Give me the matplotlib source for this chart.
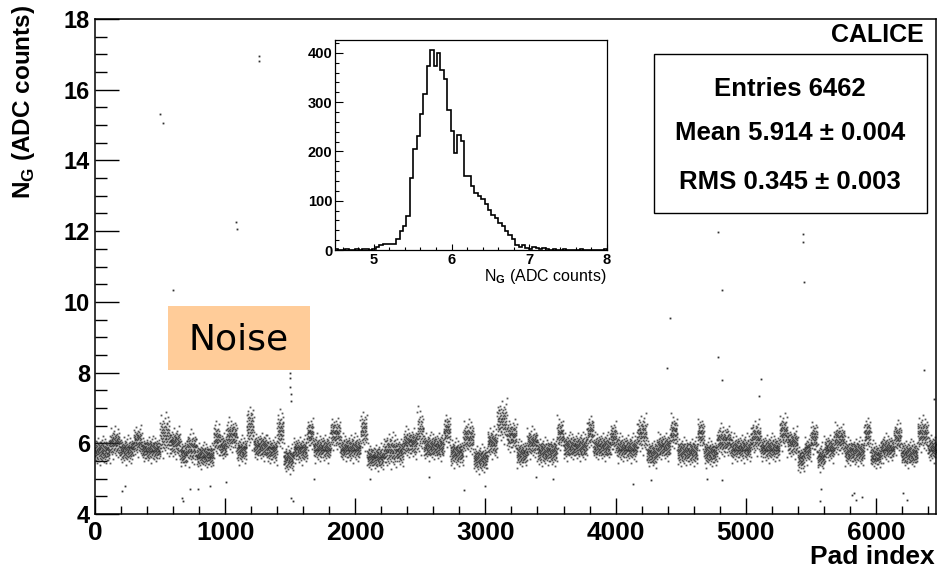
# pad noise map with inset histogram (CALICE style)

import numpy as np
import matplotlib
matplotlib.use('Agg')
import matplotlib.pyplot as plt
from matplotlib.ticker import MultipleLocator
from matplotlib.patches import Rectangle

plt.rcParams['font.family'] = ['Liberation Sans', 'DejaVu Sans']
plt.rcParams['font.weight'] = 'bold'
plt.rcParams['mathtext.fontset'] = 'custom'
plt.rcParams['mathtext.rm'] = 'Liberation Sans'
plt.rcParams['mathtext.bf'] = 'Liberation Sans:bold'

n_pads = 6462

# band level read along the pad axis (start pad of each stretch, level, spread)
seg_start = [0, 115, 190, 295, 360, 500, 575, 655, 705, 780,
             910, 960, 1010, 1090, 1165, 1220, 1320, 1400, 1450, 1525,
             1630, 1680, 1810, 1885, 2040, 2090, 2220, 2320, 2370, 2475,
             2525, 2680, 2730, 2830, 2910, 3015, 3090, 3165, 3240, 3320,
             3400, 3550, 3600, 3780, 3830, 3960, 4010, 4165, 4240, 4320,
             4420, 4475, 4630, 4680, 4780, 4885, 5040, 5115, 5260, 5320,
             5400, 5450, 5500, 5550, 5605, 5680, 5760, 5910, 5960, 6040,
             6140, 6195, 6320, 6400]
seg_level = [5.78, 6.0, 5.8, 6.05, 5.82, 6.2, 6.0, 5.7, 5.85, 5.65,
             6.1, 5.9, 6.2, 5.8, 6.45, 5.9, 5.8, 6.35, 5.55, 5.8,
             6.25, 5.85, 6.25, 5.85, 6.35, 5.6, 5.78, 5.75, 6.0, 6.3,
             5.9, 6.35, 5.72, 6.15, 5.55, 6.0, 6.6, 6.2, 5.7, 6.0,
             5.75, 6.25, 5.9, 6.3, 5.9, 6.15, 5.85, 6.25, 5.7, 5.9,
             6.3, 5.75, 6.25, 5.72, 6.05, 5.85, 6.15, 5.85, 6.3, 6.0,
             5.55, 5.8, 6.15, 5.6, 5.85, 6.1, 5.75, 6.25, 5.65, 5.85,
             6.15, 5.7, 6.25, 5.85]
seg_spread = [0.27, 0.3, 0.27, 0.3, 0.25, 0.42, 0.3, 0.27, 0.34, 0.25,
              0.34, 0.27, 0.34, 0.27, 0.42, 0.27, 0.27, 0.38, 0.27, 0.27,
              0.34, 0.27, 0.34, 0.27, 0.38, 0.25, 0.34, 0.27, 0.3, 0.48,
              0.27, 0.34, 0.27, 0.34, 0.27, 0.3, 0.42, 0.34, 0.27, 0.3,
              0.27, 0.34, 0.27, 0.34, 0.27, 0.34, 0.27, 0.38, 0.27, 0.27,
              0.34, 0.27, 0.34, 0.27, 0.32, 0.27, 0.34, 0.27, 0.34, 0.3,
              0.27, 0.27, 0.34, 0.27, 0.27, 0.32, 0.27, 0.34, 0.27, 0.27,
              0.32, 0.27, 0.34, 0.27]
# pad-to-pad scatter inside a stretch (in units of the spread)
offs = [0.3, -0.5, 0.1, 0.8, -0.2, -0.9, 0.4, 0.0, -0.4, 1.1,
        -0.1, 0.6, -0.7, 0.2, -0.3, 0.9, -1.2, 0.5, 0.1, -0.6,
        0.3, -0.1, 0.7, -0.8, 0.0, 1.4, -0.3, 0.2, -0.5, 0.6,
        -1.0, 0.4, -0.2, 0.8, 0.1, -0.7, 0.3, -0.4, 1.0, -0.1,
        0.5, -1.5, 0.2, 0.6, -0.3, -0.8, 0.9, 0.0, -0.5, 0.4,
        -0.2, 1.2, -0.6, 0.1, 0.7, -0.9, 0.3, -0.1, 0.5, -0.4,
        1.6, -0.2, 0.0, -0.7, 0.6, 0.2, -1.1, 0.8, -0.3, 0.4,
        -0.6, 0.1, 0.9, -0.2, -0.5, 0.3, 1.3, -0.8, 0.0, 0.5,
        -0.4, 0.2, -1.3, 0.7, -0.1, 0.4, -0.6, 1.0, 0.1, -0.3,
        0.6, -0.9, 0.2, -0.2, 0.8, -0.5, 0.3]

# isolated pads away from the band
out_pad = [500, 523, 600, 1085, 1088, 1262, 1262, 1498, 1500, 1502, 1505, 1508,
           4790, 5443, 5441, 5451, 4815, 4418, 4785, 4392, 4815, 5115, 5103, 6367, 6444,
           205, 230, 665, 730, 795, 880, 1008, 1508, 1680, 2115, 2833, 2995, 2564,
           3520, 3392, 4135, 4275, 5578, 5572, 5820, 5835, 5893, 6206, 4700, 4816,
           677, 1523, 5846, 6238]
out_ng = [15.3, 15.07, 10.34, 12.25, 12.05, 16.95, 16.8, 8.0, 7.85, 7.6, 7.4, 7.2,
          11.98, 11.92, 11.69, 10.55, 10.34, 9.53, 8.43, 8.12, 7.8, 7.81, 7.35, 8.06, 7.26,
          4.65, 4.8, 4.45, 4.7, 4.7, 4.78, 4.9, 4.45, 5.0, 5.0, 4.68, 4.8, 5.05,
          5.0, 5.05, 4.85, 4.95, 4.72, 4.37, 4.55, 4.6, 4.47, 4.6, 5.0, 4.96,
          4.37, 4.37, 4.4, 4.4]

# inset histogram, 80 bins from 4.5 to 8
hist_lo, hist_hi = 4.5, 8.0
hist_counts = [2, 1, 1, 2, 1, 1, 3, 1, 2, 3, 1, 2,
               7, 10, 12, 12, 13, 13,
               22, 39, 49, 68, 147, 204, 231, 275, 316, 374, 405, 374, 400, 366,
               347, 285, 241, 197, 233, 221, 150, 150, 130,
               116, 109, 103, 93, 82, 72, 64, 55, 49, 39,
               30, 22, 10, 6, 11, 5, 3, 6, 4, 2,
               5, 2, 1, 2, 1, 0, 2, 1, 1, 0, 1, 2, 1, 1, 0, 1, 0, 1, 3]

stats = ['Entries 6462', 'Mean 5.914 \u00b1 0.004', 'RMS 0.345 \u00b1 0.003']

W, H = 940, 576
fig = plt.figure(figsize=(W / 100, H / 100), dpi=100)

def fx(px):
    return px / W

def fy(py):
    return 1 - py / H

ax = fig.add_axes([fx(95), fy(514), fx(936 - 95), (514 - 19) / H])
pads = np.arange(n_pads)
seg = np.searchsorted(seg_start, pads, side='right') - 1
ng = np.array(seg_level)[seg] + np.array(seg_spread)[seg] * np.array(offs)[pads % len(offs)]
ax.plot(pads, ng, 's', ms=1.3, mew=0, color='#303030', alpha=0.8)
ax.plot(out_pad, out_ng, 's', ms=1.3, mew=0, color='#303030')
ax.set_xlim(0, n_pads)
ax.set_ylim(4, 18)
ax.xaxis.set_major_locator(MultipleLocator(1000))
ax.xaxis.set_minor_locator(MultipleLocator(200))
ax.yaxis.set_major_locator(MultipleLocator(2))
ax.yaxis.set_minor_locator(MultipleLocator(0.5))
ax.tick_params(which='both', direction='in', top=False, right=False, width=1)
ax.tick_params(axis='y', which='major', length=17, pad=3.5, labelsize=17)
ax.tick_params(axis='y', which='minor', length=8.6)
ax.tick_params(axis='x', which='major', length=11.5, pad=5, labelsize=19)
ax.tick_params(axis='x', which='minor', length=5.8)
for s in ax.spines.values():
    s.set_linewidth(1.1)

fig.text(fx(24), fy(5), r'N$_\mathbf{G}$ (ADC counts)', rotation=90,
         ha='center', va='top', fontsize=17.5, fontweight='bold')
fig.text(fx(935), fy(557), 'Pad index', ha='right', va='center',
         fontsize=19, fontweight='bold')
fig.text(fx(924), fy(35), 'CALICE', ha='right', va='center',
         fontsize=18, fontweight='bold')

# stats box
fig.add_artist(Rectangle((fx(654), fy(213)), fx(927 - 654), (213 - 54) / H,
                         transform=fig.transFigure, facecolor='white',
                         edgecolor='black', lw=1.0, zorder=5))
for line, py in zip(stats, [89, 133, 182]):
    fig.text(fx(790), fy(py), line, ha='center', va='center', fontsize=18.5,
             fontweight='bold', zorder=6)

# noise label
fig.add_artist(Rectangle((fx(168), fy(370)), fx(310 - 168), (370 - 306) / H,
                         transform=fig.transFigure, facecolor='#FFCC99',
                         edgecolor='none', zorder=5))
fig.text(fx(239), fy(339), 'Noise', ha='center', va='center', fontsize=26,
         fontweight='normal', family='DejaVu Sans', zorder=6)

# inset
ax2 = fig.add_axes([fx(335), fy(250), fx(607 - 335), (250 - 40) / H])
edges = np.linspace(hist_lo, hist_hi, len(hist_counts) + 1)
ax2.stairs(hist_counts, edges, color='black', lw=1.2)
ax2.set_xlim(hist_lo, hist_hi)
ax2.set_ylim(0, 426)
ax2.xaxis.set_major_locator(MultipleLocator(1))
ax2.xaxis.set_minor_locator(MultipleLocator(0.2))
ax2.yaxis.set_major_locator(MultipleLocator(100))
ax2.yaxis.set_minor_locator(MultipleLocator(20))
ax2.tick_params(which='both', direction='in', top=False, right=False,
                labelsize=10.5, width=0.8)
ax2.tick_params(axis='y', which='major', length=5.5, pad=2)
ax2.tick_params(axis='y', which='minor', length=2.8)
ax2.tick_params(axis='x', which='major', length=4.5, pad=2)
ax2.tick_params(axis='x', which='minor', length=2.3)
for s in ax2.spines.values():
    s.set_linewidth(0.9)
fig.text(fx(606), fy(276), r'N$_\mathrm{G}$ (ADC counts)', ha='right',
         va='center', fontsize=11.5, fontweight='normal')

fig.savefig('out.png', dpi=100)
